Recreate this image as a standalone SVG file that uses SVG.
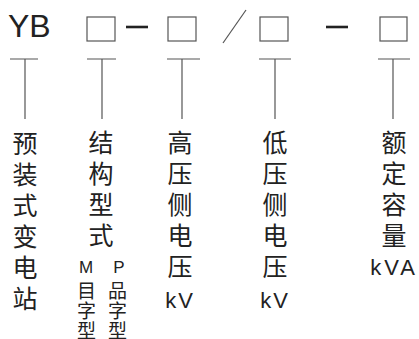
<svg xmlns="http://www.w3.org/2000/svg" width="419" height="339" viewBox="0 0 419 339">
<style>
.box{fill:none;stroke:#555;stroke-width:1.2}
.ln{stroke:#555;stroke-width:1.2;fill:none}
.dash{stroke:#222;stroke-width:2.6}
.cj{font-family:"Noto Sans CJK SC","Noto Sans CJK JP",sans-serif;font-size:25px;fill:#222;text-anchor:middle}
.sm{font-family:"Noto Sans CJK SC",sans-serif;font-size:19px;fill:#222;text-anchor:middle}
.lat{font-family:"Liberation Sans",Arial,sans-serif;fill:#222;text-anchor:middle}
</style>
<rect width="419" height="339" fill="#fff"/>
<g id="header">
<text x="8" y="37" font-family="Liberation Sans, Arial, sans-serif" font-size="32" fill="#222">YB</text>
<rect class="box" x="87" y="17" width="28" height="24"/>
<line class="dash" x1="126" y1="27" x2="148" y2="27"/>
<rect class="box" x="168" y="17" width="28" height="24"/>
<line class="ln" x1="223" y1="43" x2="246" y2="10"/>
<rect class="box" x="260" y="17" width="28" height="24"/>
<line class="dash" x1="326" y1="27" x2="348" y2="27"/>
<rect class="box" x="380" y="17" width="27" height="24"/>
</g>
<g id="connectors">
<path class="ln" d="M10 59H38M25 59V119"/>
<path class="ln" d="M87 59H116M102 59V119"/>
<path class="ln" d="M167 59H200M182 59V119"/>
<path class="ln" d="M259 59H291M275 59V119"/>
<path class="ln" d="M378 59H410M393 59V119"/>
</g>
<g id="n1">
<text class="cj" x="25" y="153">预</text>
<text class="cj" x="25" y="184">装</text>
<text class="cj" x="25" y="215">式</text>
<text class="cj" x="25" y="246">变</text>
<text class="cj" x="25" y="277">电</text>
<text class="cj" x="25" y="308">站</text>
</g>
<g id="n2">
<text class="cj" x="101" y="152">结</text>
<text class="cj" x="101" y="183">构</text>
<text class="cj" x="101" y="214">型</text>
<text class="cj" x="101" y="245">式</text>
<text class="lat" x="86" y="273" font-size="17">M</text>
<text class="sm" x="86.5" y="298">目</text>
<text class="sm" x="86.5" y="318">字</text>
<text class="sm" x="86.5" y="338">型</text>
<text class="lat" x="119" y="273" font-size="17">P</text>
<text class="sm" x="117.5" y="298">品</text>
<text class="sm" x="117.5" y="318">字</text>
<text class="sm" x="117.5" y="338">型</text>
</g>
<g id="n3">
<text class="cj" x="180" y="152">高</text>
<text class="cj" x="180" y="183">压</text>
<text class="cj" x="180" y="214">侧</text>
<text class="cj" x="180" y="245">电</text>
<text class="cj" x="180" y="276">压</text>
<text class="lat" x="180" y="308" font-size="22" letter-spacing="2">kV</text>
</g>
<g id="n4">
<text class="cj" x="275" y="152">低</text>
<text class="cj" x="275" y="183">压</text>
<text class="cj" x="275" y="214">侧</text>
<text class="cj" x="275" y="245">电</text>
<text class="cj" x="275" y="276">压</text>
<text class="lat" x="275" y="308" font-size="22" letter-spacing="2">kV</text>
</g>
<g id="n5">
<text class="cj" x="394" y="152">额</text>
<text class="cj" x="394" y="183">定</text>
<text class="cj" x="394" y="214">容</text>
<text class="cj" x="394" y="245">量</text>
<text class="lat" x="394" y="275" font-size="22" letter-spacing="3">kVA</text>
</g>
</svg>
